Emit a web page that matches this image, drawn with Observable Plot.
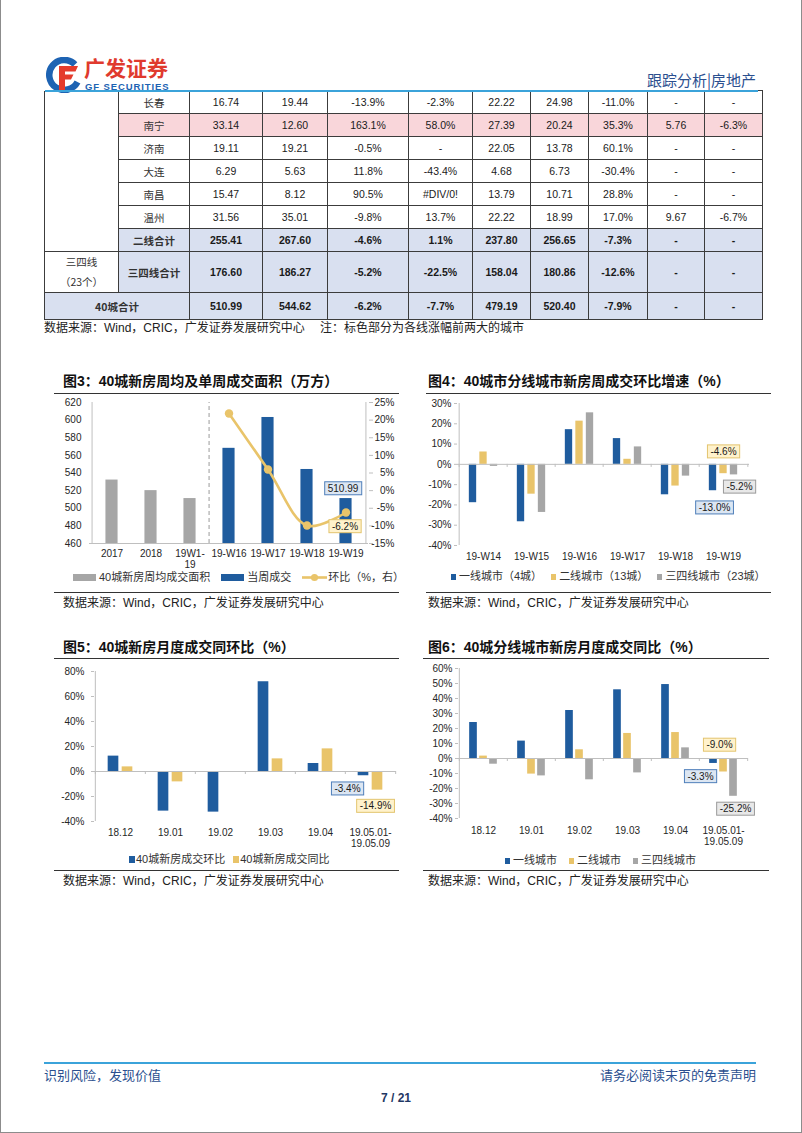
<!DOCTYPE html>
<html><head><meta charset="utf-8">
<script src="https://cdn.jsdelivr.net/npm/d3@7"></script>
<script src="https://cdn.jsdelivr.net/npm/@observablehq/plot@0.6"></script>
<style>
body{margin:0;background:#fff;}
#page{position:relative;width:802px;height:1133px;box-sizing:border-box;border-left:1px solid #8c8c8c;border-right:1px solid #8c8c8c;border-bottom:1px solid #8c8c8c;overflow:hidden;background:#fff;font-family:"Liberation Sans","Noto Sans CJK SC",sans-serif;color:#222;}
.abs{position:absolute;}
.hline{position:absolute;height:0;}
.title{position:absolute;font-weight:bold;font-size:14px;color:#111;white-space:nowrap;line-height:16px;}
.src{position:absolute;font-size:12px;color:#222;white-space:nowrap;line-height:14px;font-family:"Liberation Sans","Noto Sans CJK SC",sans-serif;}
.legend{position:absolute;display:flex;align-items:center;font-size:11px;color:#333;white-space:nowrap;line-height:13px;font-family:"Liberation Sans","Noto Sans CJK SC",sans-serif;}
.legend .it{display:flex;align-items:center;}
table.t{position:absolute;left:43px;top:90px;border-collapse:collapse;table-layout:fixed;font-size:10.5px;color:#1a1a1a;}
table.t td{border:1px solid #3c3c3c;text-align:center;padding:0;height:22px;}
table.t td.cn{font-family:"Noto Sans CJK SC",sans-serif;font-size:10.5px;color:#333;}
table.t tr.pink td.v, table.t tr.pink td.cn{background:#f9d6da;}
table.t tr.sum td{background:#d9e0f0;font-weight:bold;}
table.t tr.sum td.plain{background:#fff;font-weight:normal;}
</style></head>
<body>
<div id="page"></div>
<script>
// ================= DATA =================
const headerRight = "跟踪分析|房地产";
const footerLeft = "识别风险，发现价值";
const footerRight = "请务必阅读末页的免责声明";
const pageNo = "7 / 21";

// table
const tblCities = ["长春","南宁","济南","大连","南昌","温州"];
const tblRows = [
  ["16.74","19.44","-13.9%","-2.3%","22.22","24.98","-11.0%","-","-"],
  ["33.14","12.60","163.1%","58.0%","27.39","20.24","35.3%","5.76","-6.3%"],
  ["19.11","19.21","-0.5%","-","22.05","13.78","60.1%","-","-"],
  ["6.29","5.63","11.8%","-43.4%","4.68","6.73","-30.4%","-","-"],
  ["15.47","8.12","90.5%","#DIV/0!","13.79","10.71","28.8%","-","-"],
  ["31.56","35.01","-9.8%","13.7%","22.22","18.99","17.0%","9.67","-6.7%"]
];
const highlightCity = "南宁";
const tier2Label = "二线合计";
const tier2Total = ["255.41","267.60","-4.6%","1.1%","237.80","256.65","-7.3%","-","-"];
const tier34Group = ["三四线","（23个）"];
const tier34Label = "三四线合计";
const tier34Total = ["176.60","186.27","-5.2%","-22.5%","158.04","180.86","-12.6%","-","-"];
const allLabel = "40城合计";
const allTotal = ["510.99","544.62","-6.2%","-7.7%","479.19","520.40","-7.9%","-","-"];
const tableSource = "数据来源：Wind，CRIC，广发证券发展研究中心　 注：标色部分为各线涨幅前两大的城市";

const chartSource = "数据来源：Wind，CRIC，广发证券发展研究中心";

// chart 3
const c3Title = "图3：40城新房周均及单周成交面积（万方）";
const c3Cats = ["2017","2018","19W1-19","19-W16","19-W17","19-W18","19-W19"];
const c3AvgCats = ["2017","2018","19W1-19"];
const c3Avg = [532, 520, 511];
const c3WeekCats = ["19-W16","19-W17","19-W18","19-W19"];
const c3Week = [568, 603, 544, 510.99];
const c3Chg = [21.9, 6.0, -9.9, -6.2];
const c3LeftTicks = [460,480,500,520,540,560,580,600,620];
const c3RightTicks = [-15,-10,-5,0,5,10,15,20,25];
const c3Legend = ["40城新房周均成交面积","当周成交","环比（%，右）"];

// chart 4
const c4Title = "图4：40城市分线城市新房周成交环比增速（%）";
const c4Cats = ["19-W14","19-W15","19-W16","19-W17","19-W18","19-W19"];
const c4Tier1 = [-18.9, -28.3, 17.1, 12.7, -15.0, -13.0];
const c4Tier2 = [6.1, -14.7, 21.3, 2.5, -10.7, -4.6];
const c4Tier34 = [-1.0, -23.7, 25.4, 8.6, -5.8, -5.2];
const c4Ticks = [-40,-30,-20,-10,0,10,20,30];
const c4Legend = ["一线城市（4城）","二线城市（13城）","三四线城市（23城）"];

// chart 5
const c5Title = "图5：40城新房月度成交同环比（%）";
const c5Cats = ["18.12","19.01","19.02","19.03","19.04","19.05.01-19.05.09"];
const c5Mom = [12.3, -31.7, -32.5, 71.8, 6.4, -3.4];
const c5Yoy = [3.7, -8.3, 0, 10.1, 18.1, -14.9];
const c5Ticks = [-40,-20,0,20,40,60,80];
const c5Legend = ["40城新房成交环比","40城新房成交同比"];

// chart 6
const c6Title = "图6：40城分线城市新房月度成交同比（%）";
const c6Cats = ["18.12","19.01","19.02","19.03","19.04","19.05.01-19.05.09"];
const c6Tier1 = [24.0, 11.6, 32.0, 45.8, 49.3, -3.3];
const c6Tier2 = [1.6, -10.4, 5.8, 16.7, 17.3, -9.0];
const c6Tier34 = [-3.8, -11.6, -14.2, -9.6, 7.1, -25.2];
const c6Ticks = [-40,-30,-20,-10,0,10,20,30,40,50,60];
const c6Legend = ["一线城市","二线城市","三四线城市"];

// ================= STYLE =================
const BLUE = "#1f5c9e", YEL = "#e9c46a", GREY = "#a6a6a6", AX = "#bfbfbf";
const BOX = {
  blue: {fill:"#dce6f2", stroke:"#4f7fba"},
  yellow: {fill:"#fff2cc", stroke:"#e3c46e"},
  grey: {fill:"#e8e8e8", stroke:"#9a9a9a"}
};
const page = document.getElementById("page");
function el(tag, cls, css, html){
  const e = document.createElement(tag);
  if (cls) e.className = cls;
  if (css) e.style.cssText = css;
  if (html != null) e.innerHTML = html;
  page.appendChild(e);
  return e;
}
function line(x1, x2, y, color, w){ el("div","hline",`left:${x1}px;top:${y}px;width:${x2-x1}px;border-top:${w||1}px solid ${color}`); }

// ---------- table ----------
const colW = [74,71,73,65,81,64,58,58,59,57,58];
let th = `<table class="t" style="width:${d3.sum(colW)}px"><colgroup>${colW.map(w=>`<col style="width:${w}px">`).join("")}</colgroup>`;
tblCities.forEach((c,i)=>{
  th += `<tr class="${c===highlightCity?"pink":""}">`;
  if (i===0) th += `<td rowspan="${tblCities.length+1}" style="border-top:none"></td>`;
  th += `<td class="cn">${c}</td>` + tblRows[i].map(v=>`<td class="v">${v}</td>`).join("") + `</tr>`;
});
th += `<tr class="sum"><td class="cn">${tier2Label}</td>${tier2Total.map(v=>`<td>${v}</td>`).join("")}</tr>`;
th += `<tr class="sum"><td class="plain cn" style="height:39px;line-height:20px">${tier34Group.join("<br>")}</td><td class="cn">${tier34Label}</td>${tier34Total.map(v=>`<td>${v}</td>`).join("")}</tr>`;
th += `<tr class="sum"><td colspan="2" class="cn" style="height:26px">${allLabel}</td>${allTotal.map(v=>`<td style="height:26px">${v}</td>`).join("")}</tr>`;
th += `</table>`;
const tw = document.createElement("div"); tw.innerHTML = th; page.appendChild(tw.firstChild);
el("div","src","left:43px;top:321px",tableSource);

// ---------- header ----------
el("div","abs","left:45px;top:57px;width:36px;height:36px",
 `<svg width="36" height="36" viewBox="0 0 36 36">
   <path d="M29 7.5 A15 15 0 1 0 31.5 25" fill="none" stroke="#1d63b3" stroke-width="6.5"/>
   <path d="M13 9 H32 L29.5 14.5 H19 V17.5 H27.5 L25 22.5 H19 V33 H13 Z" fill="#e43b2c"/>
 </svg>`);
el("div","abs","left:83px;top:56px;font-size:21px;font-weight:bold;color:#e03a2e;font-family:'Noto Sans CJK SC';line-height:23px;","广发证券");
el("div","abs","left:84px;top:82px;font-size:9.5px;font-weight:bold;color:#1d63b3;font-family:'Liberation Sans';line-height:10px;letter-spacing:0.9px","GF SECURITIES");
el("div","abs","right:45px;top:71px;font-size:15px;color:#2b4f8f;font-family:'Noto Sans CJK SC';line-height:18px",headerRight);
line(44, 757, 90, "#3ba3da", 2);

// ---------- helpers ----------
const plotStyle = {fontFamily:'"Liberation Sans",Arial,sans-serif', fontSize:"10px", color:"#262626", background:"transparent", overflow:"visible"};
function boxify(svg){
  for (const k of Object.keys(BOX)) {
    svg.querySelectorAll(`g[aria-description="box-${k}"] text`).forEach(t=>{
      const b = t.getBBox();
      const r = document.createElementNS("http://www.w3.org/2000/svg","rect");
      r.setAttribute("x", b.x-3); r.setAttribute("y", b.y-1);
      r.setAttribute("width", b.width+6); r.setAttribute("height", b.height+2);
      r.setAttribute("fill", BOX[k].fill); r.setAttribute("stroke", BOX[k].stroke);
      if (t.getAttribute("transform")) r.setAttribute("transform", t.getAttribute("transform"));
      t.parentNode.insertBefore(r, t);
    });
  }
}
function place(svg, left, top){
  const w = el("div","abs",`left:${left}px;top:${top}px`);
  w.appendChild(svg);
  boxify(svg);
}
const pctFmt = v => v.toFixed(1) + "%";

function legend(left, top, items, gap){
  const L = el("div","legend",`left:${left}px;top:${top}px;gap:${gap}px`);
  items.forEach(it=>{
    const d = document.createElement("div"); d.className = "it";
    d.innerHTML = it.sw + `<span>${it.label}</span>`;
    L.appendChild(d);
  });
}
const rectSw = (c,w,h,mr) => `<span style="display:inline-block;width:${w}px;height:${h}px;background:${c};margin-right:${mr}px"></span>`;

function section(x1, x2, title, yTitle, yLine, yBottom, ySrc, tLeft){
  el("div","title",`left:${tLeft}px;top:${yTitle-8}px`, title);
  line(x1, x2, yLine, "#333", 1);
  line(x1, x2, yBottom, "#333", 1);
  el("div","src",`left:${tLeft}px;top:${ySrc-7}px`, chartSource);
}

// ---------- chart 3 ----------
section(53, 398, c3Title, 381, 393, 592, 603, 62);
{
  const W=360, H=180, mL=44, mR=37, mT=7, mB=32;
  const bw = (W-mL-mR)/c3Cats.length, barW = 13, ins = (bw-barW)/2;
  const y0 = c3LeftTicks[0], y1 = c3LeftTicks[c3LeftTicks.length-1];
  const pct = d3.scaleLinear().domain([c3RightTicks[0], c3RightTicks[c3RightTicks.length-1]]).range([y0, y1]);
  const avg = c3AvgCats.map((c,i)=>({c, v:c3Avg[i]}));
  const wk = c3WeekCats.map((c,i)=>({c, v:c3Week[i]}));
  const chg = c3WeekCats.map((c,i)=>({c, v:c3Chg[i], y:pct(c3Chg[i])}));
  const last = wk.length-1;
  const svg = Plot.plot({
    width:W, height:H, marginLeft:mL, marginRight:mR, marginTop:mT, marginBottom:mB,
    style: plotStyle,
    x:{domain:c3Cats, padding:0, label:null},
    y:{domain:[y0,y1], label:null},
    marks:[
      Plot.ruleX([c3WeekCats[0]], {dx:-bw/2, y1:y0, y2:y1, stroke:"#9a9a9a", strokeDasharray:"4,3"}),
      Plot.barY(avg, {x:"c", y1:y0, y2:"v", fill:GREY, insetLeft:ins, insetRight:ins}),
      Plot.barY(wk, {x:"c", y1:y0, y2:"v", fill:BLUE, insetLeft:ins, insetRight:ins}),
      Plot.line(chg, {x:"c", y:"y", stroke:YEL, strokeWidth:2.6, curve:"catmull-rom"}),
      Plot.dot(chg, {x:"c", y:"y", r:4.2, fill:YEL}),
      Plot.ruleY([y0], {stroke:AX}),
      Plot.ruleX([c3Cats[0]], {dx:-bw/2, y1:y0, y2:y1, stroke:AX}),
      Plot.ruleX([c3Cats[c3Cats.length-1]], {dx:bw/2, y1:y0, y2:y1, stroke:AX}),
      Plot.axisY({anchor:"left", ticks:c3LeftTicks, tickSize:0, tickPadding:8, label:null}),
      Plot.axisY({anchor:"right", ticks:c3RightTicks.map(v=>pct(v)), tickFormat:d=>Math.round(pct.invert(d))+"%", tickSize:4, tickPadding:22, textAnchor:"end", label:null, stroke:AX}),
      Plot.axisX({tickSize:0, tickPadding:6, label:null, lineHeight:1.1, tickFormat:d=> d.startsWith("19W") ? d.replace("-","-\n") : d}),
      Plot.text([wk[last]], {x:"c", y:"v", text:d=>d.v.toFixed(2), dx:-3, dy:-10, fill:"#1a1a1a", ariaDescription:"box-blue"}),
      Plot.text([chg[last]], {x:"c", y:"y", text:d=>pctFmt(d.v), dx:-1, dy:14, fill:"#1a1a1a", ariaDescription:"box-yellow"})
    ]
  });
  place(svg, 44, 395);
  legend(72, 571, [
    {sw:rectSw(GREY,23,7,3), label:c3Legend[0]},
    {sw:rectSw(BLUE,23,7,3), label:c3Legend[1]},
    {sw:`<svg width="25" height="9" style="margin-right:1px"><line x1="0" y1="4.5" x2="25" y2="4.5" stroke="${YEL}" stroke-width="2.6"/><circle cx="12.5" cy="4.5" r="3.6" fill="${YEL}"/></svg>`, label:c3Legend[2]}
  ], 11);
}

// ---------- grouped bar helper ----------
function grouped(o){
  const n = o.cats.length, bw = (o.W-o.mL-o.mR)/n, ins = (bw-o.barW)/2;
  const k = o.series.length;
  const yd = [o.ticks[0], o.ticks[o.ticks.length-1]];
  const marks = [];
  o.series.forEach((s,i)=>{
    const data = o.cats.map((c,j)=>({c, v:s[j]}));
    marks.push(Plot.barY(data, {x:"c", y:"v", fill:o.colors[i], insetLeft:ins, insetRight:ins, dx:(i-(k-1)/2)*o.step}));
  });
  marks.push(Plot.ruleY([0], {stroke:AX}));
  marks.push(Plot.ruleX(o.cats, {dx:-bw/2, y1:0, y2:-o.zt, stroke:AX}));
  marks.push(Plot.ruleX([o.cats[n-1]], {dx:bw/2, y1:0, y2:-o.zt, stroke:AX}));
  marks.push(Plot.ruleX([o.cats[0]], {dx:-bw/2, y1:yd[0], y2:yd[1], stroke:AX}));
  marks.push(Plot.axisY({anchor:"left", ticks:o.ticks, tickFormat:d=>d+"%", tickSize:3, tickPadding:o.tp, stroke:AX, label:null}));
  marks.push(Plot.axisX({tickSize:0, tickPadding:o.xp, label:null, lineHeight:1.15, tickFormat:d=>d.includes("-") && d.length>10 ? d.replace("-","-\n") : d}));
  o.labels.forEach(l=>{
    const s = o.series[l.s], j = n-1;
    marks.push(Plot.text([{c:o.cats[j], v:s[j]}], {x:"c", y:"v", text:d=>pctFmt(d.v), dx:(l.s-(k-1)/2)*o.step + l.dx, dy:l.dy, fill:"#1a1a1a", ariaDescription:"box-"+l.box}));
  });
  const svg = Plot.plot({
    width:o.W, height:o.H, marginLeft:o.mL, marginRight:o.mR, marginTop:o.mT, marginBottom:o.mB,
    style: plotStyle,
    x:{domain:o.cats, padding:0, label:null},
    y:{domain:yd, label:null},
    marks
  });
  place(svg, o.left, o.top);
}

// ---------- chart 4 ----------
section(425, 770, c4Title, 381, 393, 592, 603, 427);
grouped({cats:c4Cats, series:[c4Tier1,c4Tier2,c4Tier34], colors:[BLUE,YEL,GREY], ticks:c4Ticks,
  W:360, H:175, mL:44, mR:24, mT:8, mB:25, left:412, top:395, barW:8, step:10.5, zt:1.5, tp:3, xp:6,
  labels:[{s:1, box:"yellow", dx:0, dy:-22},{s:2, box:"grey", dx:5.5, dy:12},{s:0, box:"blue", dx:1.5, dy:17}]});
legend(450, 570, c4Legend.map((t,i)=>({sw:rectSw([BLUE,YEL,GREY][i],5,6,3), label:t})), 9);

// ---------- chart 5 ----------
section(53, 398, c5Title, 647, 658, 870, 881, 62);
grouped({cats:c5Cats, series:[c5Mom,c5Yoy], colors:[BLUE,YEL], ticks:c5Ticks,
  W:360, H:190, mL:49, mR:9, mT:8, mB:32, left:44, top:663, barW:11, step:14, zt:2.4, tp:7, xp:6,
  labels:[{s:0, box:"blue", dx:-16, dy:13},{s:1, box:"yellow", dx:-2, dy:16}]});
legend(128, 853, c5Legend.map((t,i)=>({sw:rectSw([BLUE,YEL][i],6,7,1), label:t})), 8);

// ---------- chart 6 ----------
section(422, 768, c6Title, 647, 658, 870, 881, 427);
grouped({cats:c6Cats, series:[c6Tier1,c6Tier2,c6Tier34], colors:[BLUE,YEL,GREY], ticks:c6Ticks,
  W:360, H:193, mL:45, mR:25, mT:8, mB:35, left:412, top:660, barW:8, step:10, zt:2, tp:3, xp:7,
  labels:[{s:1, box:"yellow", dx:-4, dy:-27},{s:0, box:"blue", dx:-13, dy:13},{s:2, box:"grey", dx:2, dy:12.7}]});
legend(504, 854, c6Legend.map((t,i)=>({sw:rectSw([BLUE,YEL,GREY][i],5,6,3), label:t})), 12);

// ---------- footer ----------
line(43, 755, 1062, "#3ba3da", 2);
el("div","abs","left:43px;top:1067px;font-size:13px;color:#2b4f8f;font-family:'Noto Sans CJK SC';line-height:15px",footerLeft);
el("div","abs","right:45px;top:1067px;font-size:13px;color:#2b4f8f;font-family:'Noto Sans CJK SC';line-height:15px",footerRight);
el("div","abs","left:0;width:790px;text-align:center;top:1091px;font-size:12px;font-weight:bold;color:#1f3864;line-height:14px",pageNo);
</script>
</body></html>
